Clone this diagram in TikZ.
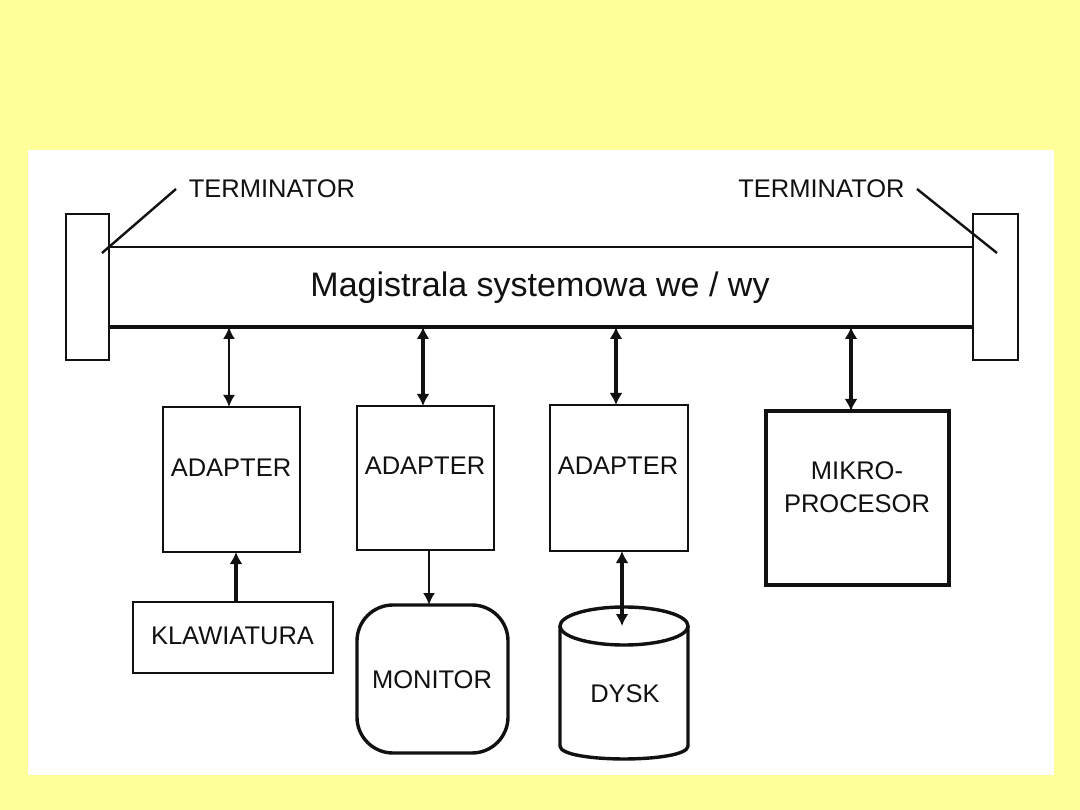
\documentclass[tikz,border=0pt]{standalone}
\usepackage{fontspec}
\setmainfont{Liberation Sans}
\usetikzlibrary{arrows.meta}
\definecolor{bgyellow}{HTML}{FFFF99}
\definecolor{ink}{HTML}{111111}
\begin{document}
\begin{tikzpicture}[x=1pt,y=-1pt,
  every node/.style={inner sep=0pt, outer sep=0pt, text=ink},
  lbl/.style={font=\fontsize{25.5}{30}\selectfont, anchor=base},
  boxnode/.style={draw=ink, line width=2.8pt, rectangle, minimum width=#1},
  thinarrow/.style={draw=ink, line width=2pt, {Latex[length=12pt,width=12pt]}-{Latex[length=12pt,width=12pt]}},
  thickarrow/.style={draw=ink, line width=3.4pt, {Latex[length=12pt,width=13pt]}-{Latex[length=12pt,width=13pt]}},
  onearrow/.style={draw=ink, line width=3.4pt, -{Latex[length=12pt,width=13pt]}},
  onethin/.style={draw=ink, line width=2pt, -{Latex[length=12pt,width=12pt]}},
  leader/.style={draw=ink, line width=2.4pt}
]
\useasboundingbox (0,0) rectangle (1080,810);
\fill[bgyellow] (0,0) rectangle (1080,810);
\fill[white] (28,150) rectangle (1054,775);

% bus
\node (bus) [minimum width=864pt, minimum height=80pt] at (541,287) {};
\draw[ink, line width=2.6pt] (bus.north west) -- (bus.north east);
\draw[ink, line width=3.4pt] (bus.south west) -- (bus.south east);
\node[font=\fontsize{34}{40}\selectfont, anchor=base] (bustext) at (540,297) {Magistrala systemowa we / wy};

% terminators
\node (tl) [draw=ink, line width=2.8pt, minimum width=43pt, minimum height=146pt] at (87.5,287) {};
\node (tr) [draw=ink, line width=2.8pt, minimum width=45pt, minimum height=146pt] at (995.5,287) {};
\node[lbl] (tltext) at (272,198) {TERMINATOR};
\node[lbl] (trtext) at (821.5,198) {TERMINATOR};
\coordinate (tlA) at (176,189);
\coordinate (tlB) at (102,253);
\coordinate (trA) at (917,189);
\coordinate (trB) at (997,253);
\draw[leader] (tlA) -- (tlB);
\draw[leader] (trA) -- (trB);

% adapters
\node (a1) [boxnode=137pt, minimum height=145pt] at (231.5,479.5) {};
\node (a2) [boxnode=137pt, minimum height=144pt] at (425.5,478) {};
\node (a3) [boxnode=138pt, minimum height=146pt] at (619,478) {};
\node[lbl] at (231,476) {ADAPTER};
\node[lbl] at (425,475) {ADAPTER};
\node[lbl] at (618,475) {ADAPTER};

% microprocessor
\node (mp) [draw=ink, line width=3.8pt, minimum width=183pt, minimum height=174pt] at (857.5,498) {};
\node[lbl] at (857,479) {MIKRO-};
\node[lbl] at (857,512) {PROCESOR};

% keyboard
\node (kb) [boxnode=200pt, minimum height=71pt] at (233,637.5) {};
\node[lbl] at (232.5,644) {KLAWIATURA};

% monitor
\node (mon) [draw=ink, line width=3.4pt, rounded corners=36pt, minimum width=151pt, minimum height=148pt] at (432.5,679) {};
\node[lbl] at (432,688) {MONITOR};

% disk
\coordinate (dtop) at (624,626);
\fill[white] (560,626) -- (560,746) .. controls (560,763.3) and (688,763.3) .. (688,746) -- (688,626) -- cycle;
\draw[ink, line width=3.4pt] (560,626) -- (560,746) .. controls (560,763.3) and (688,763.3) .. (688,746) -- (688,626);
\draw[ink, line width=3.4pt] (dtop) ellipse [x radius=64, y radius=19];
\node[lbl] (dysk) at (625,702) {DYSK};

% connectors bus <-> units
\draw[thinarrow] ([xshift=-2.5pt]a1.north) -- ([xshift=-2.5pt]a1.north |- bus.south);
\draw[thickarrow] ([xshift=-2.5pt]a2.north) -- ([xshift=-2.5pt]a2.north |- bus.south);
\draw[thickarrow] ([xshift=-3pt]a3.north) -- ([xshift=-3pt]a3.north |- bus.south);
\draw[thickarrow] ([xshift=-6.5pt]mp.north) -- ([xshift=-6.5pt]mp.north |- bus.south);

% device connectors
\draw[onearrow] ([xshift=3pt]kb.north) -- ([xshift=3pt]kb.north |- a1.south);
\draw[onethin] ([xshift=3.5pt]a2.south) -- ([xshift=-3.5pt]mon.north);
\draw[thickarrow] ([xshift=3pt]a3.south) -- ([xshift=-2pt]dtop);
\end{tikzpicture}
\end{document}
